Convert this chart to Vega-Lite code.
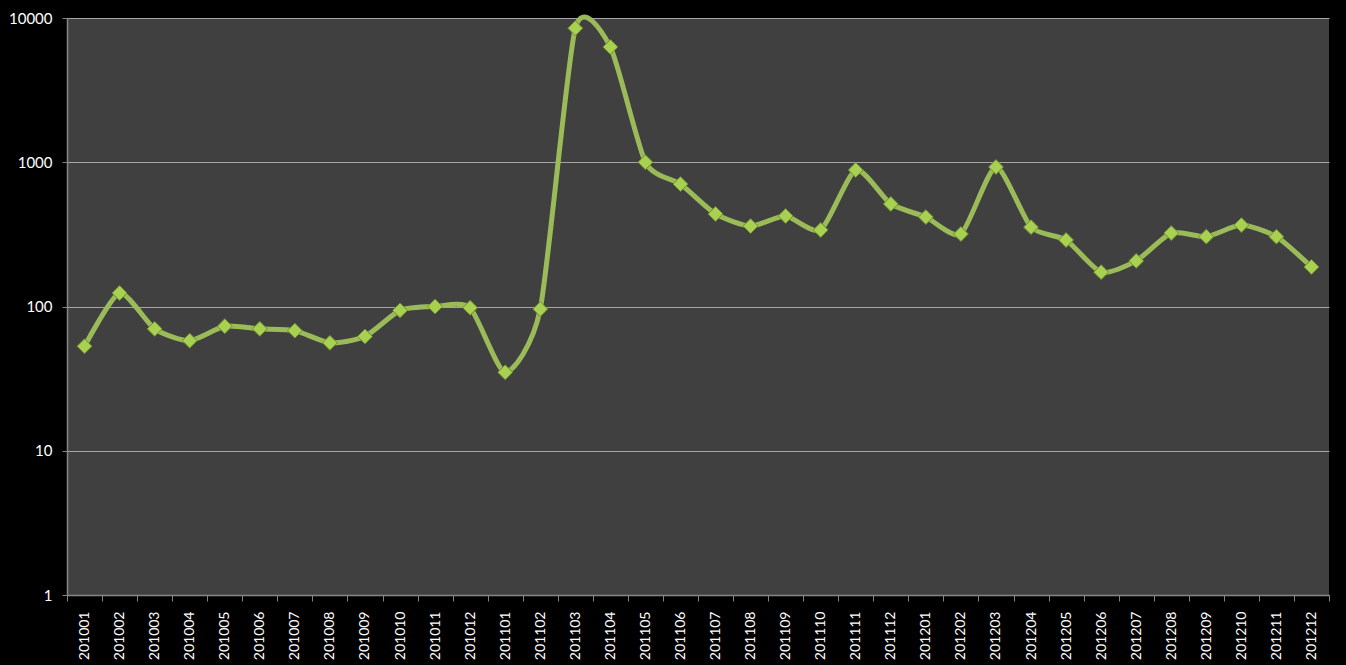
{
  "$schema": "https://vega.github.io/schema/vega-lite/v6.json",
  "autosize": {"type": "none"},
  "width": 1262,
  "height": 577,
  "padding": {"left": 67, "top": 18, "right": 17, "bottom": 70},
  "background": "#000000",
  "config": {
    "view": {"fill": "#404040", "stroke": null},
    "font": "Lato"
  },
  "data": {
    "values": [
      {"month": "201001", "value": 53},
      {"month": "201002", "value": 124},
      {"month": "201003", "value": 70},
      {"month": "201004", "value": 58},
      {"month": "201005", "value": 73},
      {"month": "201006", "value": 70},
      {"month": "201007", "value": 68},
      {"month": "201008", "value": 56},
      {"month": "201009", "value": 62},
      {"month": "201010", "value": 94},
      {"month": "201011", "value": 100},
      {"month": "201012", "value": 98},
      {"month": "201101", "value": 35},
      {"month": "201102", "value": 96},
      {"month": "201103", "value": 8500},
      {"month": "201104", "value": 6300},
      {"month": "201105", "value": 1000},
      {"month": "201106", "value": 706},
      {"month": "201107", "value": 438},
      {"month": "201108", "value": 361},
      {"month": "201109", "value": 424},
      {"month": "201110", "value": 339},
      {"month": "201111", "value": 884},
      {"month": "201112", "value": 514},
      {"month": "201201", "value": 417},
      {"month": "201202", "value": 318},
      {"month": "201203", "value": 927},
      {"month": "201204", "value": 355},
      {"month": "201205", "value": 289},
      {"month": "201206", "value": 173},
      {"month": "201207", "value": 207},
      {"month": "201208", "value": 323},
      {"month": "201209", "value": 305},
      {"month": "201210", "value": 367},
      {"month": "201211", "value": 305},
      {"month": "201212", "value": 188}
    ]
  },
  "encoding": {
    "x": {
      "field": "month",
      "type": "ordinal",
      "sort": null,
      "scale": {"type": "band", "paddingInner": 0, "paddingOuter": 0},
      "axis": {
        "title": null,
        "labelAngle": -90,
        "labelAlign": "right",
        "labelBaseline": "middle",
        "labelColor": "#FFFFFF",
        "labelFontSize": 14,
        "labelPadding": 10,
        "tickBand": "extent",
        "tickColor": "#868686",
        "tickSize": 6,
        "domainColor": "#868686",
        "domainWidth": 1.5,
        "grid": false
      }
    },
    "y": {
      "field": "value",
      "type": "quantitative",
      "scale": {"type": "log", "domain": [1, 10000], "nice": false},
      "axis": {
        "title": null,
        "values": [1, 10, 100, 1000, 10000],
        "format": "d",
        "labelColor": "#FFFFFF",
        "labelFontSize": 15,
        "labelPadding": 10,
        "tickColor": "#868686",
        "tickSize": 5,
        "domainColor": "#868686",
        "domainWidth": 1.5,
        "grid": true,
        "gridColor": "#A6A6A6",
        "gridWidth": 1
      }
    }
  },
  "layer": [
    {
      "mark": {"type": "line", "interpolate": "cardinal", "tension": 0.35, "color": "#9BBB59", "strokeWidth": 5}
    },
    {
      "mark": {"type": "point", "shape": "diamond", "filled": true, "size": 220, "color": "#A9D151", "stroke": "#6F8E2E", "strokeWidth": 1, "opacity": 1}
    }
  ]
}
